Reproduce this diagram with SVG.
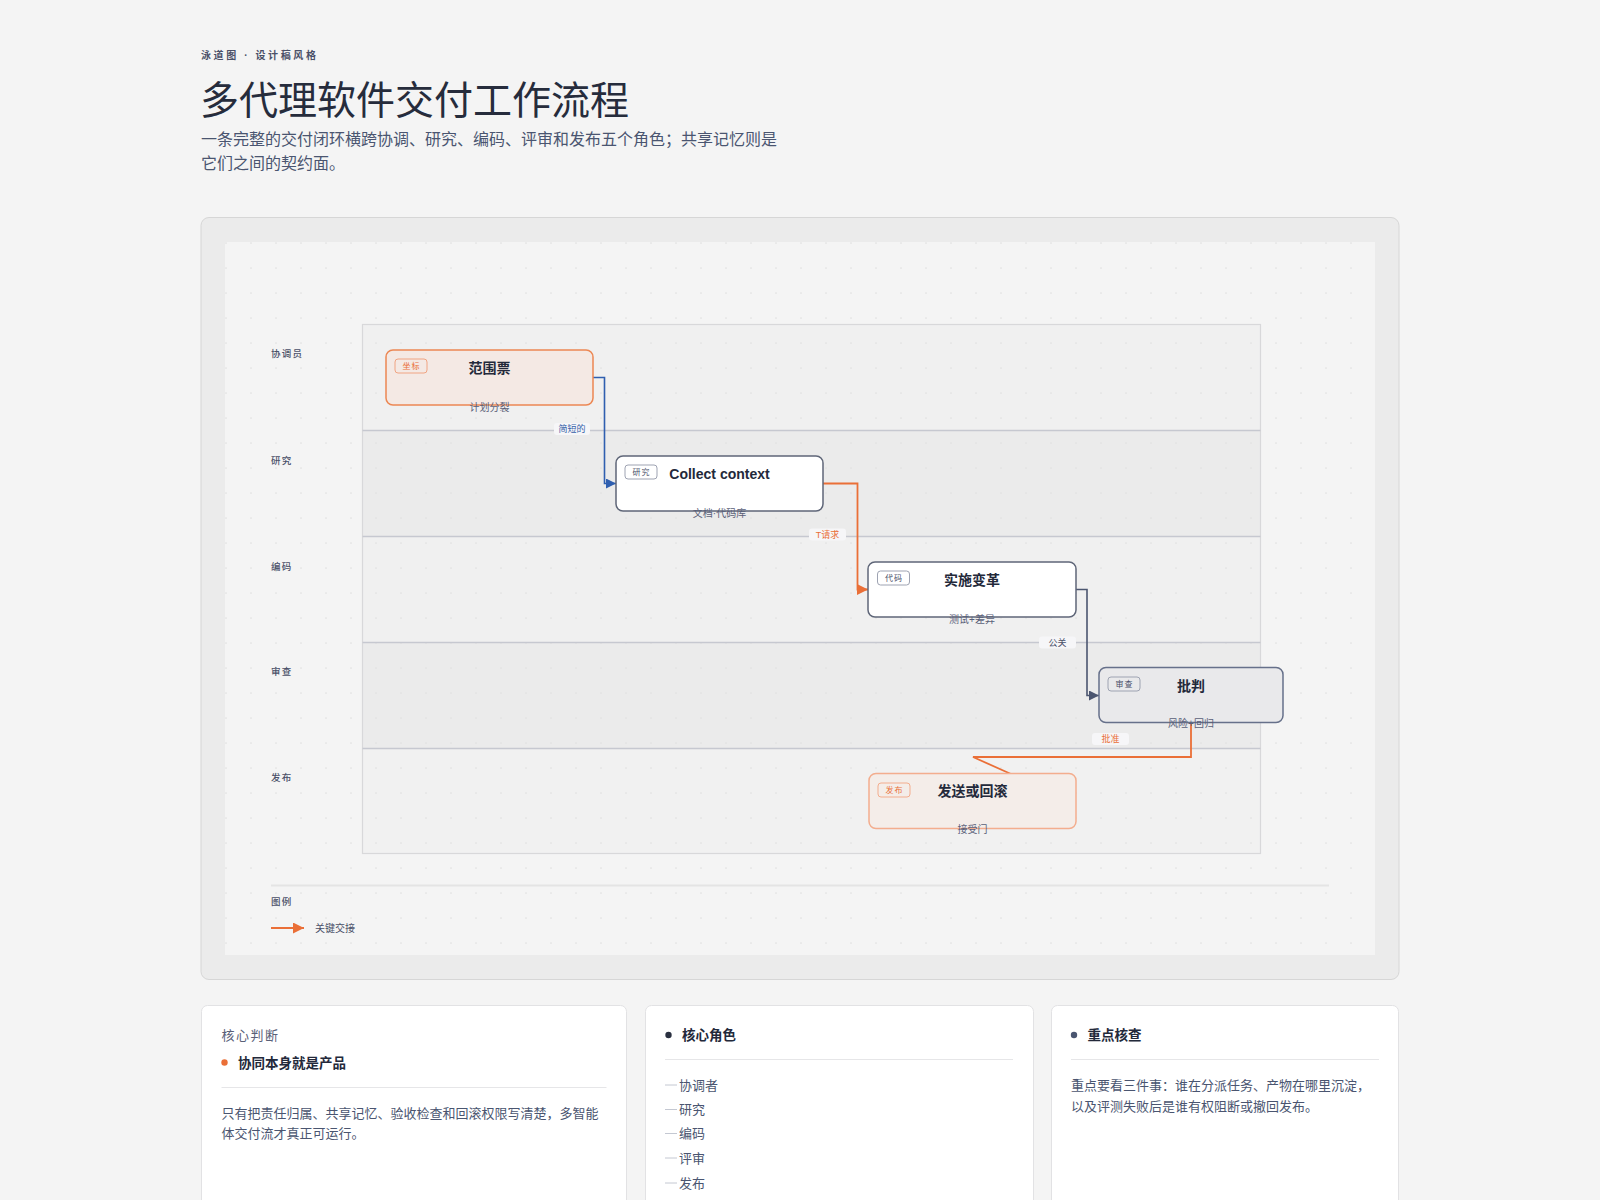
<svg xmlns="http://www.w3.org/2000/svg" width="1600" height="1200" viewBox="0 0 1600 1200">
<defs>
<style>
text{font-family:"Liberation Sans","Noto Sans CJK SC",sans-serif;}
.lane-label{font-size:9.5px;fill:#4a5068;letter-spacing:1.2px;font-weight:500;}
.ntitle{font-size:14px;font-weight:700;fill:#23293a;text-anchor:middle;}
.nsub{font-size:10px;fill:#5a6078;text-anchor:middle;}
.tag{font-size:8px;text-anchor:middle;letter-spacing:1px;}
.elabel{font-size:9px;text-anchor:middle;}
.lbg{fill:#f6f6f8;}
.body{font-size:13px;fill:#4a5570;}
.ctitle{font-size:13.5px;font-weight:700;fill:#23293a;}
.card{fill:#ffffff;stroke:#e2e2e4;stroke-width:1;}
</style>
<pattern id="dots" x="225" y="242" width="25" height="25" patternUnits="userSpaceOnUse">
<circle cx="1" cy="1" r="0.85" fill="#e0e0e0"/>
</pattern>
<marker id="arrBlue" viewBox="0 0 10 10" refX="10" refY="5" markerWidth="10" markerHeight="10" markerUnits="userSpaceOnUse" orient="auto">
<path d="M0,0 L10,5 L0,10 z" fill="#2f5fb0"/>
</marker>
<marker id="arrOrange" viewBox="0 0 10 10" refX="10" refY="5" markerWidth="11" markerHeight="11" markerUnits="userSpaceOnUse" orient="auto">
<path d="M0,0 L10,5 L0,10 z" fill="#ea6f37"/>
</marker>
<marker id="arrSlate" viewBox="0 0 10 10" refX="10" refY="5" markerWidth="10" markerHeight="10" markerUnits="userSpaceOnUse" orient="auto">
<path d="M0,0 L10,5 L0,10 z" fill="#4c5670"/>
</marker>
</defs>

<rect x="0" y="0" width="1600" height="1200" fill="#f4f4f4"/>

<g id="header">
<text x="201" y="59" style="font-size:10px;font-weight:600;fill:#4a5068;letter-spacing:2.6px;">泳道图 · 设计稿风格</text>
<text x="200" y="114" style="font-size:39px;fill:#262c3c;font-weight:400;">多代理软件交付工作流程</text>
<text x="201" y="145" style="font-size:16px;fill:#4a5570;">一条完整的交付闭环横跨协调、研究、编码、评审和发布五个角色；共享记忆则是</text>
<text x="201" y="169" style="font-size:16px;fill:#4a5570;">它们之间的契约面。</text>
</g>

<g id="panel">
<rect x="201" y="217.5" width="1198" height="762" rx="8" fill="#ebebeb" stroke="#d6d6d6" stroke-width="1"/>
<rect x="225" y="242" width="1150" height="713" fill="#f4f4f4"/>
</g>

<g id="lanes">
<rect x="362.5" y="324.5" width="898" height="106" fill="#f0f0f0"/>
<rect x="362.5" y="430.5" width="898" height="106" fill="#ebebeb"/>
<rect x="362.5" y="536.5" width="898" height="106" fill="#f0f0f0"/>
<rect x="362.5" y="642.5" width="898" height="106" fill="#ebebeb"/>
<rect x="362.5" y="748.5" width="898" height="105" fill="#f1f1f1"/>
<rect x="225" y="242" width="1150" height="713" fill="url(#dots)"/>
<rect x="362.5" y="324.5" width="898" height="529" fill="none" stroke="#d8d8da" stroke-width="1.2"/>
<g stroke="#c6c8d0" stroke-width="1.5">
<line x1="362.5" y1="430.5" x2="1260.5" y2="430.5"/>
<line x1="362.5" y1="536.5" x2="1260.5" y2="536.5"/>
<line x1="362.5" y1="642.5" x2="1260.5" y2="642.5"/>
<line x1="362.5" y1="748.5" x2="1260.5" y2="748.5"/>
</g>
<text class="lane-label" x="271" y="356.5">协调员</text>
<text class="lane-label" x="271" y="463.5">研究</text>
<text class="lane-label" x="271" y="569.5">编码</text>
<text class="lane-label" x="271" y="674.5">审查</text>
<text class="lane-label" x="271" y="780.5">发布</text>
</g>

<g id="connectors" fill="none">
<path d="M593,377.5 H604.5 V483.5 H616" stroke="#2f5fb0" stroke-width="1.6" marker-end="url(#arrBlue)"/>
<path d="M823,483.5 H857.5 V589.5 H868" stroke="#ea6f37" stroke-width="1.8" marker-end="url(#arrOrange)"/>
<path d="M1076,589.5 H1087 V695.5 H1099" stroke="#4c5670" stroke-width="1.6" marker-end="url(#arrSlate)"/>
<path d="M1191,723 V757 H973 L1011,774" stroke="#ea6f37" stroke-width="1.8"/>
<g>
<rect class="lbg" x="554" y="423" width="36" height="12" rx="3"/>
<text class="elabel" x="572" y="432" fill="#3560a8">简短的</text>
<rect class="lbg" x="809" y="528.5" width="37" height="12" rx="3"/>
<text class="elabel" x="827.5" y="537.5" fill="#ea6f37">T请求</text>
<rect class="lbg" x="1039" y="636.5" width="37" height="12" rx="3"/>
<text class="elabel" x="1057.5" y="645.5" fill="#4a5068">公关</text>
<rect class="lbg" x="1092" y="733" width="37" height="12" rx="3"/>
<text class="elabel" x="1110.5" y="742" fill="#ea6f37">批准</text>
</g>
</g>

<g id="node-scope">
<rect x="386" y="350" width="207" height="55" rx="7" fill="#f4e9e4" stroke="#ec8753" stroke-width="1.5"/>
<rect x="395" y="359" width="32" height="14" rx="3" fill="none" stroke="#f0a482" stroke-width="1"/>
<text class="tag" x="411.5" y="369" fill="#ea6f37">坐标</text>
<text class="ntitle" x="489.5" y="373">范围票</text>
<text class="nsub" x="489.5" y="410.5">计划分裂</text>
</g>

<g id="node-research">
<rect x="616" y="456" width="207" height="55" rx="7" fill="#ffffff" stroke="#5f6678" stroke-width="1.5"/>
<rect x="625" y="465" width="32" height="14" rx="3" fill="none" stroke="#9ea3b2" stroke-width="1"/>
<text class="tag" x="641.5" y="475" fill="#4a5068">研究</text>
<text class="ntitle" x="719.5" y="479">Collect context</text>
<text class="nsub" x="719.5" y="516.5">文档·代码库</text>
</g>

<g id="node-code">
<rect x="868" y="562" width="208" height="55" rx="7" fill="#ffffff" stroke="#5f6678" stroke-width="1.5"/>
<rect x="877.5" y="571" width="32" height="14" rx="3" fill="none" stroke="#9ea3b2" stroke-width="1"/>
<text class="tag" x="894" y="581" fill="#4a5068">代码</text>
<text class="ntitle" x="972" y="585">实施变革</text>
<text class="nsub" x="972" y="622.5">测试+差异</text>
</g>

<g id="node-review">
<rect x="1099" y="667.5" width="184" height="55" rx="7" fill="#e9e9eb" stroke="#66708a" stroke-width="1.5"/>
<rect x="1108" y="677" width="32" height="14" rx="3" fill="none" stroke="#9ea3b2" stroke-width="1"/>
<text class="tag" x="1124.5" y="687" fill="#4a5068">审查</text>
<text class="ntitle" x="1191" y="691">批判</text>
<text class="nsub" x="1191" y="727">风险+回归</text>
</g>

<g id="node-release">
<rect x="869" y="773.5" width="207" height="55" rx="7" fill="#f4ede9" stroke="#f3ad8e" stroke-width="1.5"/>
<rect x="878" y="783" width="32" height="14" rx="3" fill="none" stroke="#f3ad8e" stroke-width="1"/>
<text class="tag" x="894.5" y="793" fill="#ea6f37">发布</text>
<text class="ntitle" x="972.5" y="796">发送或回滚</text>
<text class="nsub" x="972.5" y="833">接受门</text>
</g>

<g id="legend">
<line x1="271" y1="885.5" x2="1329" y2="885.5" stroke="#e4e4e4" stroke-width="2"/>
<text class="lane-label" x="271" y="904.5">图例</text>
<line x1="271" y1="928" x2="304" y2="928" stroke="#ea6f37" stroke-width="1.8" marker-end="url(#arrOrange)"/>
<text x="315" y="931.5" style="font-size:10px;fill:#4a5068;">关键交接</text>
</g>

<g id="card-judgement">
<rect class="card" x="201.5" y="1005.5" width="425" height="220" rx="6"/>
<text x="221.5" y="1039.5" style="font-size:13px;fill:#5a6078;letter-spacing:1.5px;">核心判断</text>
<circle cx="224.5" cy="1062.5" r="3.2" fill="#ea6f37"/>
<text class="ctitle" x="238" y="1067.5">协同本身就是产品</text>
<line x1="221.5" y1="1087.5" x2="606.5" y2="1087.5" stroke="#e6e6e8" stroke-width="1"/>
<text class="body" x="221.5" y="1117.5">只有把责任归属、共享记忆、验收检查和回滚权限写清楚，多智能</text>
<text class="body" x="221.5" y="1138">体交付流才真正可运行。</text>
</g>

<g id="card-roles">
<rect class="card" x="645.5" y="1005.5" width="388" height="220" rx="6"/>
<circle cx="668.5" cy="1035" r="3.2" fill="#2a3040"/>
<text class="ctitle" x="682" y="1040">核心角色</text>
<line x1="665" y1="1059.5" x2="1013" y2="1059.5" stroke="#e6e6e8" stroke-width="1"/>
<g stroke="#c4c8d2" stroke-width="1">
<line x1="665" y1="1085" x2="677" y2="1085"/>
<line x1="665" y1="1109.5" x2="677" y2="1109.5"/>
<line x1="665" y1="1133.5" x2="677" y2="1133.5"/>
<line x1="665" y1="1158" x2="677" y2="1158"/>
<line x1="665" y1="1183" x2="677" y2="1183"/>
</g>
<text class="body" x="679" y="1089.5">协调者</text>
<text class="body" x="679" y="1114">研究</text>
<text class="body" x="679" y="1138">编码</text>
<text class="body" x="679" y="1162.5">评审</text>
<text class="body" x="679" y="1187.5">发布</text>
</g>

<g id="card-checks">
<rect class="card" x="1051.5" y="1005.5" width="347" height="220" rx="6"/>
<circle cx="1074" cy="1035" r="3.2" fill="#4a5570"/>
<text class="ctitle" x="1087.5" y="1040">重点核查</text>
<line x1="1071" y1="1059.5" x2="1379" y2="1059.5" stroke="#e6e6e8" stroke-width="1"/>
<text class="body" x="1071" y="1089.5">重点要看三件事：谁在分派任务、产物在哪里沉淀，</text>
<text class="body" x="1071" y="1110.5">以及评测失败后是谁有权阻断或撤回发布。</text>
</g>
</svg>
